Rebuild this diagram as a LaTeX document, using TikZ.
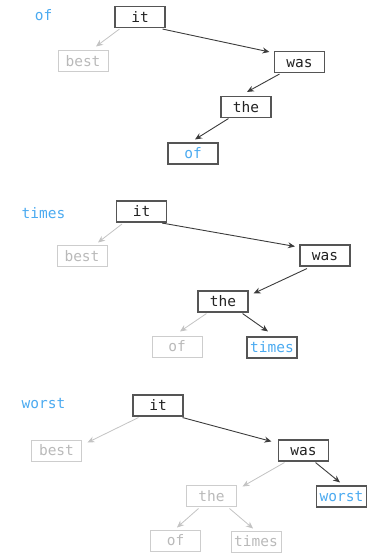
\documentclass[tikz,border=0pt]{standalone}
\usepackage{fontspec}
\setmonofont{DejaVu Sans Mono}
\usetikzlibrary{arrows.meta}
\definecolor{hl}{RGB}{75,170,240}
\definecolor{txtdark}{RGB}{34,34,34}
\definecolor{txtlight}{RGB}{185,185,185}
\definecolor{boxdark}{RGB}{85,85,85}
\definecolor{boxlight}{RGB}{205,205,205}
\definecolor{arrdark}{RGB}{60,60,60}
\definecolor{arrlight}{RGB}{195,195,195}
\begin{document}
\begin{tikzpicture}[x=1pt,y=-1pt,
  box/.style={draw=boxdark, line width=1.1pt, minimum width=50pt, minimum height=21pt,
    inner sep=0pt, text height=10.5pt, text depth=0pt,
    font=\ttfamily\fontsize{14.5}{15}\selectfont, text=txtdark},
  gbox/.style={box, draw=boxlight, line width=1pt, text=txtlight},
  hbox/.style={box, text=hl},
  lbl/.style={anchor=base, font=\ttfamily\fontsize{14.5}{15}\selectfont, text=hl},
  darr/.style={draw=arrdark, line width=0.9pt, -{Stealth[length=7pt,width=6pt]}},
  larr/.style={draw=arrlight, line width=0.8pt, -{Stealth[length=7pt,width=6pt]}}]
\useasboundingbox (0,0) rectangle (379,553);

% ---------- panel 1 ----------
\node[lbl] (l1) at (43.5,21) {of};
\node[box]  (a1it)   at (140,17)    {it};
\node[gbox] (a1best) at (83,61.5)   {best};
\node[box]  (a1was)  at (299.5,62)  {was};
\node[box]  (a1the)  at (246,107)   {the};
\node[hbox] (a1of)   at (193,153.5) {of};
\draw[larr] ([shift={(5,1)}]a1it.south west) -- ([shift={(13,-4)}]a1best.north);
\draw[darr] ([shift={(-3,1)}]a1it.south east) -- ([shift={(-4.5,1)}]a1was.north west);
\draw[darr] ([shift={(5.5,1)}]a1was.south west) -- ([shift={(1,-4)}]a1the.north);
\draw[darr] ([shift={(8,0.5)}]a1the.south west) -- ([shift={(2,-3)}]a1of.north);

% ---------- panel 2 ----------
\node[lbl] (l2) at (43.5,218) {times};
\node[box]  (b2it)    at (141.5,211.5) {it};
\node[gbox] (b2best)  at (82,256)      {best};
\node[box]  (b2was)   at (325,255.5)   {was};
\node[box]  (b2the)   at (223,301.5)   {the};
\node[gbox] (b2of)    at (177,346.5)   {of};
\node[hbox] (b2times) at (272,347.5)   {times};
\draw[larr] ([shift={(6,1.5)}]b2it.south west) -- ([shift={(16,-2.5)}]b2best.north);
\draw[darr] ([shift={(-5,0.5)}]b2it.south east) -- ([shift={(-4.5,2)}]b2was.north west);
\draw[darr] ([shift={(7.5,2)}]b2was.south west) -- ([shift={(5,3)}]b2the.north east);
\draw[larr] ([shift={(9,1)}]b2the.south west) -- ([shift={(3,-4)}]b2of.north);
\draw[darr] ([shift={(-6,1)}]b2the.south east) -- ([shift={(-4,-5)}]b2times.north);

% ---------- panel 3 ----------
\node[lbl] (l3) at (43.5,408) {worst};
\node[box]  (c3it)    at (158,405.5)   {it};
\node[gbox] (c3best)  at (56.5,450.5)  {best};
\node[box]  (c3was)   at (303.5,450.5) {was};
\node[gbox] (c3the)   at (211.5,496)   {the};
\node[hbox] (c3worst) at (341.5,496.5) {worst};
\node[gbox] (c3of)    at (175.5,540.5) {of};
\node[gbox] (c3times) at (256,541.5)   {times};
\draw[larr] ([shift={(6,1)}]c3it.south west) -- ([shift={(5.5,3)}]c3best.north east);
\draw[darr] ([shift={(-1,1)}]c3it.south east) -- ([shift={(-6.5,2)}]c3was.north west);
\draw[larr] ([shift={(6.5,1)}]c3was.south west) -- ([shift={(5.5,1.5)}]c3the.north east);
\draw[darr] ([shift={(-13.5,1)}]c3was.south east) -- ([shift={(-1.5,-3)}]c3worst.north);
\draw[larr] ([shift={(12.5,1.5)}]c3the.south west) -- ([shift={(1.5,-2)}]c3of.north);
\draw[larr] ([shift={(-7.5,1.5)}]c3the.south east) -- ([shift={(-3,-2)}]c3times.north);
\end{tikzpicture}
\end{document}
